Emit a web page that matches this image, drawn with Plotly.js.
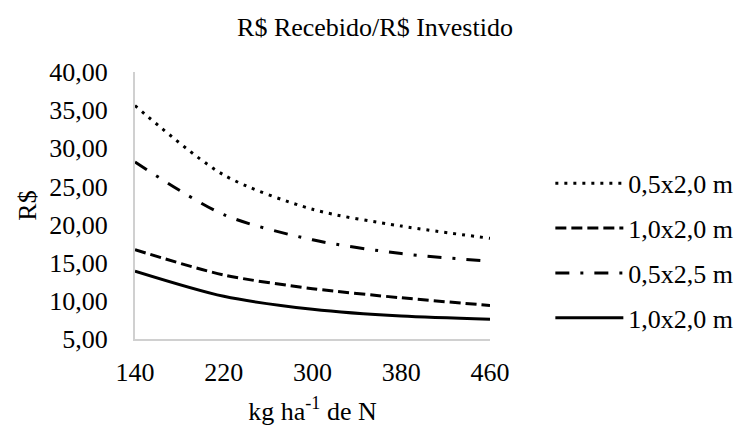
<!DOCTYPE html>
<html>
<head>
<meta charset="utf-8">
<script src="https://cdn.plot.ly/plotly-3.0.1.min.js"></script>
<style>html,body{margin:0;padding:0;background:#fff;}#chart{width:750px;height:429px;}
#warm{position:absolute;left:0;top:0;font-family:'Liberation Serif';font-size:2px;color:transparent;}</style>
</head>
<body>
<span id="warm">.</span>
<div id="chart"></div>
<script>
var doses = [140, 220, 300, 380, 460];
var tickLabels = ["140", "220", "300", "380", "460"];
var seriesNames = ["0,5x2,0 m", "1,0x2,0 m", "0,5x2,5 m", "1,0x2,0 m"];
var s05x20 = [35.6, 26.5, 22.0, 19.8, 18.2];
var s10x20a = [16.7, 13.4, 11.6, 10.4, 9.4];
var s05x25 = [28.2, 21.3, 18.0, 16.2, 15.2];
var s10x20b = [13.9, 10.6, 8.9, 8.0, 7.6];

var values = [s05x20, s10x20a, s05x25, s10x20b];
var dashes = ["3px,6px", "11px,5px", "14px,11px,3px,11px", "solid"];
var FONT = "Liberation Serif";

function draw() {
  var traces = values.map(function (v, i) {
    return {
      x: doses, y: v, name: seriesNames[i], type: "scatter", mode: "lines",
      line: {color: "#000000", width: 3, dash: dashes[i], shape: "spline", smoothing: 0.8},
      legendgroup: "g" + i, hoverinfo: "skip"
    };
  });

  var layout = {
    width: 750, height: 429,
    margin: {l: 135, r: 254, t: 72, b: 90},
    paper_bgcolor: "#ffffff", plot_bgcolor: "#ffffff",
    separators: ",.",
    font: {family: FONT, size: 26, color: "#000000"},
    title: {text: "R$ Recebido/R$ Investido", font: {family: FONT, size: 26, color: "#000"}, x: 0.5, xref: "container", xanchor: "center", y: 0.937, yref: "container", yanchor: "middle"},
    xaxis: {
      range: [140, 460], tickvals: doses, ticktext: tickLabels,
      showline: true, linecolor: "#d0d0d0", linewidth: 2, showgrid: false, zeroline: false,
      ticks: "", tickfont: {family: FONT, size: 26}, ticklabelstandoff: 9,
      title: {text: "kg ha<sup>-1</sup> de N", font: {family: FONT, size: 26}, standoff: 16}
    },
    yaxis: {
      range: [5, 40], dtick: 5, tick0: 5, tickformat: ".2f",
      showline: true, linecolor: "#d0d0d0", linewidth: 2, showgrid: false, zeroline: false,
      ticks: "", tickfont: {family: FONT, size: 26}, ticklabelstandoff: 20,
      title: {text: "R$", font: {family: FONT, size: 26}, standoff: 5}
    },
    showlegend: true,
    legend: {
      x: 1.17, xanchor: "left", y: 0.33, yanchor: "middle",
      font: {family: FONT, size: 26, color: "#000"},
      itemwidth: 68, traceorder: "grouped", tracegroupgap: 8,
      bgcolor: "rgba(0,0,0,0)"
    }
  };

  Plotly.newPlot("chart", traces, layout, {staticPlot: true, displayModeBar: false});
}

var drawn = false;
function once() { if (!drawn) { drawn = true; draw(); } }
var ready = (document.fonts && document.fonts.ready) ? document.fonts.ready : Promise.resolve();
ready.then(function () { setTimeout(once, 30); }, once);
setTimeout(once, 600);
</script>
</body>
</html>
